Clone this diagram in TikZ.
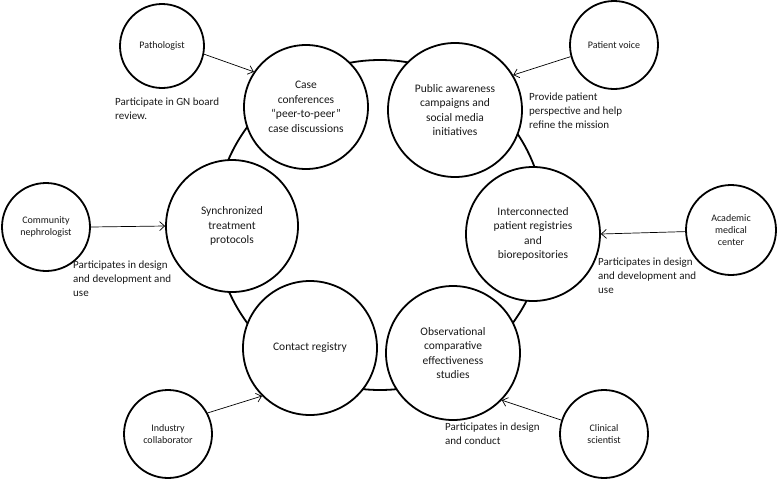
\documentclass[tikz,border=0pt]{standalone}
\usepackage{fontspec}
\setmainfont{Carlito}
\usetikzlibrary{arrows.meta}
\tikzset{
  bigc/.style={circle, draw, line width=1.8pt, fill=white, minimum size=134pt, inner sep=0pt, align=center, font=\fontsize{11.5}{14.5}\selectfont, text=black!90},
  smallc/.style={circle, draw, line width=1.8pt, fill=white, minimum size=88pt, inner sep=0pt, align=center, font=\fontsize{10}{12.3}\selectfont, text=black!90},
  lbl/.style={anchor=north west, align=left, inner sep=0pt, font=\fontsize{11}{14}\selectfont, text=black!90},
  arr/.style={-{Straight Barb[length=5pt,width=9pt]}, line width=0.7pt},
  ring/.style={line width=1.8pt}
}
\begin{document}
\begin{tikzpicture}[x=1pt,y=-1pt]
\useasboundingbox (0,0) rectangle (777,480);
\node[circle, ring, draw, minimum size=330pt, inner sep=0pt] (ringc) at (380,225) {};
% main circles
\node[bigc, minimum size=124pt] (case) at (306,107) {Case\\conferences\\“peer-to-peer”\\case discussions};
\node[bigc] (pub) at (455,110) {Public awareness\\campaigns and\\social media\\initiatives};
\node[bigc, minimum size=132pt] (sync) at (232,226) {Synchronized\\treatment\\protocols};
\node[bigc] (inter) at (533,234) {Interconnected\\patient registries\\and\\biorepositories};
\node[bigc] (contact) at (310,348) {Contact registry};
\node[bigc] (obs) at (453,353) {Observational\\comparative\\effectiveness\\studies};
% small circles
\node[smallc, minimum size=84pt] (path) at (162,46) {Pathologist};
\node[smallc] (voice) at (614,45) {Patient voice};
\node[smallc] (comm) at (46,227) {Community\\nephrologist};
\node[smallc, minimum size=90pt] (acad) at (731,230) {Academic\\medical\\center};
\node[smallc] (ind) at (168,434) {Industry\\collaborator};
\node[smallc] (clin) at (604,434) {Clinical\\scientist};
% arrows
\draw[arr] (path.-11) -- (case.146);
\draw[arr] (voice.195) -- (pub.31);
\draw[arr] (comm.0) -- (sync.180);
\draw[arr] (acad.182) -- (inter.0);
\draw[arr] (ind.28) -- (contact.225);
\draw[arr] (clin.162) -- (obs.316);
% labels
\node[lbl] (l1) at (115,98) {Participate in GN board\\review.};
\node[lbl] (l2) at (529,93) {Provide patient\\perspective and help\\refine the mission};
\node[lbl] (l3) at (73,261) {Participates in design\\and development and\\use};
\node[lbl] (l4) at (598,258) {Participates in design\\and development and\\use};
\node[lbl] (l5) at (445,423) {Participates in design\\and conduct};
\end{tikzpicture}
\end{document}
